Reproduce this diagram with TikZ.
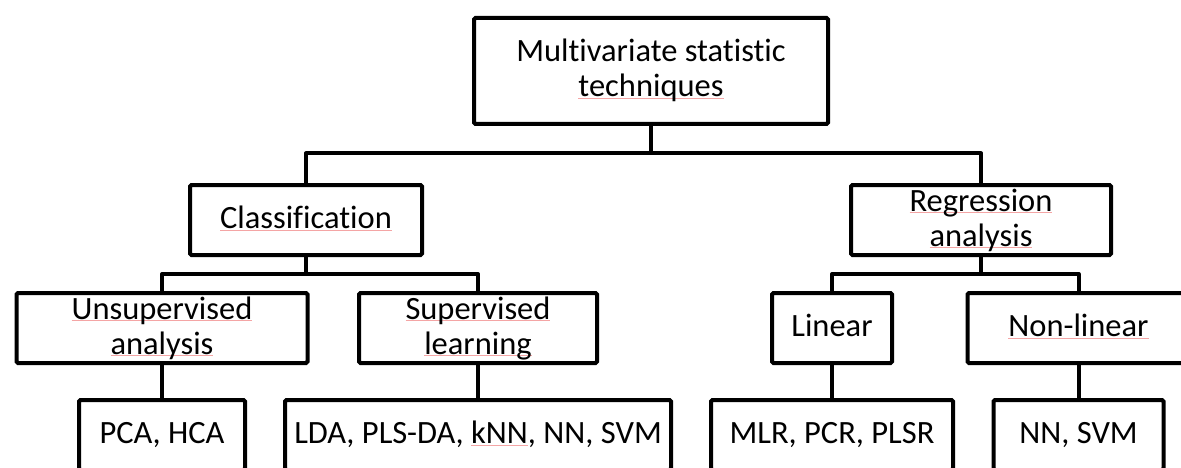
\documentclass[tikz,border=0pt]{standalone}
\usepackage{fontspec}
\setmainfont{Carlito}[RawFeature={-liga}]
\definecolor{spellred}{RGB}{244,165,165}
\newcommand\wavyu[1]{\setbox0\hbox{#1}\rlap{\textcolor{spellred}{\raisebox{-1.8pt}{\rule{\wd0}{0.8pt}}}}\box0}
\newcommand\lstrut{\rule[-9pt]{0pt}{35pt}}
\begin{document}
\begin{tikzpicture}[x=1pt,y=-1pt,
  box/.style={draw, line width=4pt, rounded corners=1.5pt, inner sep=0pt, align=center,
    font=\fontsize{32.5}{35}\selectfont, minimum height=70pt, fill=white},
  conn/.style={line width=4pt, line join=round}]
\useasboundingbox (0,0) rectangle (1181,468);
\clip (0,0) rectangle (1181,468);
\fill[white] (0,0) rectangle (1181,468);
% nodes
\node[box, minimum width=354pt, minimum height=106pt] (top) at (651,71)
  {\lstrut Multivariate statistic\\\lstrut\wavyu{techniques}};
\node[box, minimum width=232pt] (cls) at (306,220) {\lstrut\wavyu{Classification}};
\node[box, minimum width=260pt] (reg) at (981,220) {\lstrut\wavyu{Regression}\\\lstrut\wavyu{analysis}};
\node[box, minimum width=291pt] (uns) at (162,328) {\lstrut\wavyu{Unsupervised}\\\lstrut\wavyu{analysis}};
\node[box, minimum width=238pt] (sup) at (478,328) {\lstrut\wavyu{Supervised}\\\lstrut\wavyu{learning}};
\node[box, minimum width=120pt] (lin) at (832,328) {\lstrut Linear};
\node[box, minimum width=222pt] (nonlin) at (1078.5,328) {\lstrut\wavyu{Non-linear}};
\node[box, minimum width=166pt] (pca) at (162,435) {\lstrut PCA, HCA};
\node[box, minimum width=386pt] (lda) at (478,435) {\lstrut LDA, PLS-DA, \wavyu{kNN}, NN, SVM};
\node[box, minimum width=242pt] (mlr) at (832,435) {\lstrut MLR, PCR, PLSR};
\node[box, minimum width=170pt] (nnsvm) at (1078.5,435) {\lstrut NN, SVM};
% bus points
\coordinate (b0) at (651,153.5);
\coordinate (b1) at (306,274);
\coordinate (b2) at (981,274);
% connectors
\draw[conn] (top.south) -- (b0);
\draw[conn] (cls.north) |- (b0) -| (reg.north);
\draw[conn] (cls.south) -- (b1);
\draw[conn] (uns.north) |- (b1) -| (sup.north);
\draw[conn] (reg.south) -- (b2);
\draw[conn] (lin.north) |- (b2) -| (nonlin.north);
\draw[conn] (uns.south) -- (pca.north);
\draw[conn] (sup.south) -- (lda.north);
\draw[conn] (lin.south) -- (mlr.north);
\draw[conn] (nonlin.south) -- (nnsvm.north);
\end{tikzpicture}
\end{document}
